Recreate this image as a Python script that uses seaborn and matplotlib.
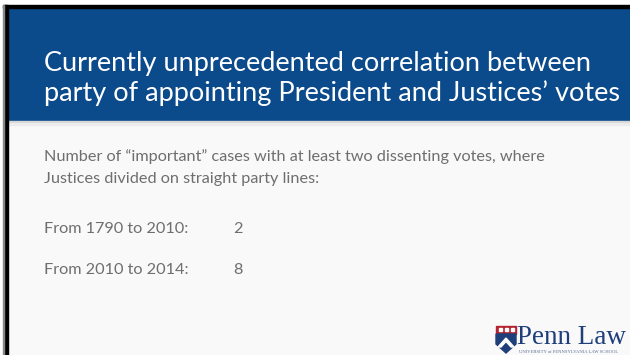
import matplotlib
matplotlib.use("Agg")
import matplotlib.pyplot as plt
import seaborn as sns
from matplotlib.patches import Rectangle, Polygon

# slide text / data
title_lines = ["Currently unprecedented correlation between",
               "party of appointing President and Justices\u2019 votes"]
intro_lines = ["Number of \u201cimportant\u201d cases with at least two dissenting votes, where",
               "Justices divided on straight party lines:"]
periods = ["From 1790 to 2010:", "From 2010 to 2014:"]
case_counts = [2, 8]

sns.set_theme(style="white")
plt.rcParams["font.family"] = ["Lato", "DejaVu Sans"]

BLUE = "#0B4A8B"
GREY_TXT = "#6E6E6E"

fig = plt.figure(figsize=(6.3, 3.55), dpi=100)
ax = fig.add_axes([0, 0, 1, 1])
ax.set_xlim(0, 630)
ax.set_ylim(355, 0)
ax.axis("off")

# background and frame
ax.add_patch(Rectangle((0, 0), 630, 355, color="#F9F9F9", zorder=0))
ax.add_patch(Rectangle((0, 0), 630, 5, color="white", zorder=1))
ax.add_patch(Rectangle((0, 0), 4, 355, color="white", zorder=1))
ax.add_patch(Rectangle((3, 5), 627, 3, color="black", zorder=3))
ax.add_patch(Rectangle((4, 5), 3.5, 350, color="black", zorder=3))
ax.add_patch(Rectangle((3, 5), 1, 350, color="#888888", zorder=3))

# title bar
ax.add_patch(Rectangle((7, 8), 623, 113, color=BLUE, zorder=2))
ax.add_patch(Rectangle((7, 121), 623, 2, color="#D6D6D6", zorder=2))
ax.add_patch(Rectangle((7, 123), 623, 1.5, color="#ECECEC", zorder=2))
for i, line in enumerate(title_lines):
    ax.text(44, 63 + i * 30, line, color="white", fontsize=19.5,
            va="center", ha="left", zorder=4)

# body
for i, line in enumerate(intro_lines):
    ax.text(44, 157 + i * 21.5, line, color=GREY_TXT, fontsize=11.7,
            va="center", ha="left", zorder=4)
for i, (p, n) in enumerate(zip(periods, case_counts)):
    y = 229 + i * 41
    ax.text(44, y, p, color=GREY_TXT, fontsize=11.7, va="center", ha="left", zorder=4)
    ax.text(233, y, str(n), color=GREY_TXT, fontsize=11.7, va="center", ha="left", zorder=4)

# Penn Law logo
ax.add_patch(Rectangle((496, 326), 20, 8, color="#B5232E", zorder=4))
for bx in (498.5, 504.5, 510.5):
    ax.add_patch(Rectangle((bx, 328), 3.5, 3, color="white", zorder=5))
ax.add_patch(Polygon([(496, 334), (516, 334), (516, 344), (506, 353), (496, 344)],
                     closed=True, color="#1F3F7A", zorder=4))
ax.add_patch(Polygon([(498, 347), (506, 338), (514, 347), (511, 347), (506, 341.5), (501, 347)],
                     closed=True, color="white", zorder=5))
ax.text(517, 344.5, "Penn Law", family="Liberation Serif", fontsize=19.5,
        color="#1F3F7A", va="baseline", ha="left", zorder=5)
ax.text(519, 352, "UNIVERSITY of PENNSYLVANIA LAW SCHOOL", family="Liberation Serif",
        fontsize=3.3, color="#5A6E96", va="center", ha="left", zorder=5)

fig.savefig("out.png", dpi=100)
